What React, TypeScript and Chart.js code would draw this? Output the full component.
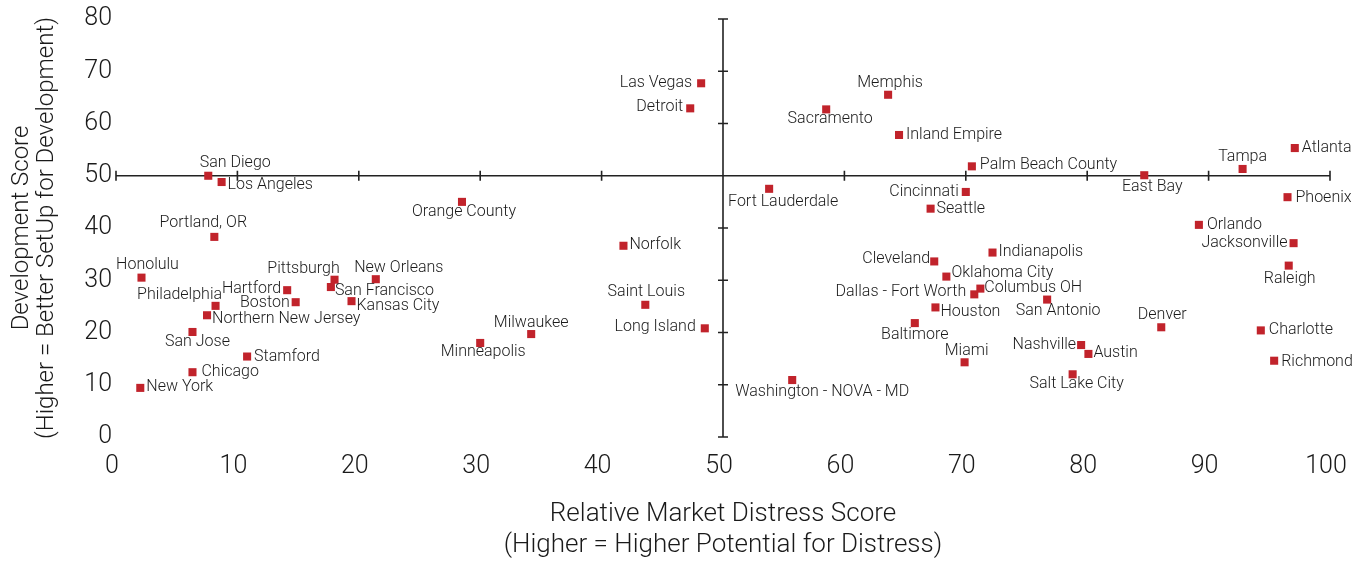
import React, { useEffect, useRef } from 'react';
import { Chart, registerables } from 'chart.js';

Chart.register(...registerables);

const CITIES: string[] = [
  'San Diego', 'Los Angeles', 'Portland, OR', 'Honolulu', 'Philadelphia', 'Northern New Jersey',
  'San Jose', 'Stamford', 'Chicago', 'New York', 'Hartford', 'Boston', 'Pittsburgh', 'San Francisco',
  'Kansas City', 'New Orleans', 'Las Vegas', 'Detroit', 'Sacramento', 'Orange County', 'Fort Lauderdale',
  'Norfolk', 'Saint Louis', 'Long Island', 'Milwaukee', 'Minneapolis', 'Washington - NOVA - MD',
  'Memphis', 'Inland Empire', 'Atlanta', 'Palm Beach County', 'East Bay', 'Tampa', 'Cincinnati',
  'Seattle', 'Phoenix', 'Orlando', 'Jacksonville', 'Raleigh', 'Indianapolis', 'Cleveland',
  'Oklahoma City', 'Columbus OH', 'Dallas - Fort Worth', 'San Antonio', 'Houston', 'Baltimore',
  'Denver', 'Charlotte', 'Nashville', 'Austin', 'Miami', 'Richmond', 'Salt Lake City',
];

const DISTRESS: number[] = [
  7.6, 8.7, 8.1, 2.1, 8.2, 7.5,
  6.3, 10.8, 6.3, 2.0, 14.1, 14.8, 18.0, 17.7,
  19.4, 21.4, 48.2, 47.3, 58.5, 28.5, 53.8,
  41.8, 43.6, 48.5, 34.2, 30.0, 55.7,
  63.6, 64.5, 97.1, 70.5, 84.7, 92.8, 70.0,
  67.1, 96.5, 89.2, 97.0, 96.6, 72.2, 67.4,
  68.4, 71.2, 70.7, 76.7, 67.5, 65.8,
  86.1, 94.3, 79.5, 80.1, 69.9, 95.4, 78.8,
];

const DEVELOPMENT: number[] = [
  50.0, 48.8, 38.3, 30.5, 25.1, 23.3,
  20.1, 15.4, 12.4, 9.4, 28.1, 25.8, 30.1, 28.7,
  26.0, 30.2, 67.7, 62.9, 62.7, 45.0, 47.5,
  36.6, 25.3, 20.8, 19.7, 18.0, 10.9,
  65.5, 57.8, 55.3, 51.8, 50.1, 51.3, 46.9,
  43.7, 45.9, 40.6, 37.1, 32.8, 35.3, 33.6,
  30.7, 28.4, 27.3, 26.3, 24.8, 21.8,
  21.0, 20.4, 17.6, 15.9, 14.3, 14.6, 12.0,
];

const X_TICKS: number[] = [0, 10, 20, 30, 40, 50, 60, 70, 80, 90, 100];
const Y_TICKS: number[] = [0, 10, 20, 30, 40, 50, 60, 70, 80];
const X_CROSS = 50;
const Y_CROSS = 50;

const X_TITLE: string[] = ['Relative Market Distress Score', '(Higher = Higher Potential for Distress)'];
const Y_TITLE: string[] = ['Development Score', '(Higher = Better SetUp for Development)'];

// label placement style: [textAlign, dx px, dy px] relative to marker
const LABEL_STYLE: [CanvasTextAlign, number, number][] = [
  ['center', 27, -13], ['left', 6, 3], ['center', -11, -14], ['center', 6, -13], ['center', -36, -11], ['left', 5, 4],
  ['center', 5, 10], ['left', 7, 0], ['left', 9, 0], ['left', 6, -1], ['right', -6, -1], ['right', -6, 1], ['center', -31, -11], ['left', 4, 4],
  ['left', 5, 5], ['center', 23, -11], ['right', -9, 0], ['right', -7, -1], ['center', 4, 10], ['center', 2, 10], ['center', 14, 13],
  ['left', 6, -1], ['center', 1, -13], ['right', -9, -1], ['center', 0, -11], ['center', 3, 9], ['center', 30, 12],
  ['center', 2, -12], ['left', 7, 0], ['left', 7, 0], ['left', 8, -1], ['center', 8, 12], ['center', 0, -12], ['right', -7, 0],
  ['left', 6, 0], ['left', 8, 1], ['left', 8, 0], ['right', -6, 0], ['center', 1, 13], ['left', 6, -1], ['right', -4, -2],
  ['left', 5, -4], ['left', 4, -1], ['right', -8, -2], ['center', 11, 11], ['left', 5, 5], ['center', 0, 12],
  ['center', 1, -12], ['left', 8, 0], ['right', -5, 0], ['left', 5, -1], ['center', 2, -11], ['left', 7, 1], ['center', 4, 10],
];

const RED = '#C1232B';
const TEXT = '#1a1a1a';
const FAMILY = 'Roboto, "Liberation Sans", Arial, sans-serif';

const crossPlugin = {
  id: 'crossAxes',
  beforeDatasetsDraw(chart: any) {
    const { ctx, scales } = chart;
    const xs = scales.x;
    const ys = scales.y;
    const cx = xs.getPixelForValue(X_CROSS);
    const cy = ys.getPixelForValue(Y_CROSS);
    const x0 = xs.getPixelForValue(X_TICKS[0]);
    const x1 = xs.getPixelForValue(X_TICKS[X_TICKS.length - 1]);
    const y0 = ys.getPixelForValue(Y_TICKS[0]);
    const y1 = ys.getPixelForValue(Y_TICKS[Y_TICKS.length - 1]);
    const t = 5;
    ctx.save();
    ctx.strokeStyle = '#222';
    ctx.lineWidth = 1.6;
    ctx.beginPath();
    ctx.moveTo(x0, cy);
    ctx.lineTo(x1, cy);
    ctx.moveTo(cx, y0);
    ctx.lineTo(cx, y1);
    X_TICKS.forEach((v) => {
      const p = xs.getPixelForValue(v);
      ctx.moveTo(p, cy - t);
      ctx.lineTo(p, cy + t);
    });
    Y_TICKS.forEach((v) => {
      const p = ys.getPixelForValue(v);
      ctx.moveTo(cx - t, p);
      ctx.lineTo(cx + t, p);
    });
    ctx.stroke();
    ctx.restore();
  },
};

const labelPlugin = {
  id: 'pointLabels',
  afterDatasetsDraw(chart: any) {
    const { ctx } = chart;
    const meta = chart.getDatasetMeta(0);
    ctx.save();
    ctx.font = `300 16px ${FAMILY}`;
    ctx.fillStyle = TEXT;
    ctx.textBaseline = 'middle';
    meta.data.forEach((el: any, i: number) => {
      const [align, dx, dy] = LABEL_STYLE[i];
      ctx.textAlign = align;
      ctx.fillText(CITIES[i], el.x + dx, el.y + dy);
    });
    ctx.restore();
  },
};

export default function App() {
  const ref = useRef<HTMLCanvasElement>(null);
  useEffect(() => {
    const canvas = ref.current;
    if (!canvas) return;
    const tickFont = { family: FAMILY, size: 25, weight: 300 as any };
    const chart = new Chart(canvas, {
      type: 'scatter',
      data: {
        datasets: [
          {
            data: DISTRESS.map((x, i) => ({ x, y: DEVELOPMENT[i] })),
            pointStyle: 'rect',
            pointRadius: 5.7,
            pointHoverRadius: 5.7,
            backgroundColor: RED,
            borderColor: RED,
            borderWidth: 0,
          },
        ],
      },
      options: {
        animation: false,
        responsive: true,
        maintainAspectRatio: false,
        layout: { padding: { left: 0, right: 36, top: 17, bottom: 0 } },
        plugins: {
          legend: { display: false },
          tooltip: { enabled: false },
        },
        scales: {
          x: {
            type: 'linear',
            min: X_TICKS[0],
            max: X_TICKS[X_TICKS.length - 1],
            afterBuildTicks: (s: any) => {
              s.ticks = X_TICKS.map((v) => ({ value: v }));
            },
            afterFit: (s: any) => {
              s.height = 124;
            },
            grid: { display: false, drawTicks: false },
            border: { display: false },
            ticks: { font: tickFont, color: TEXT, padding: 15, labelOffset: -4 },
            title: {
              display: true,
              text: X_TITLE,
              color: TEXT,
              font: { family: FAMILY, size: 26, weight: 300 as any, lineHeight: 1.19 },
              padding: { top: 0, bottom: 0.5 },
            },
          },
          y: {
            type: 'linear',
            min: Y_TICKS[0],
            max: Y_TICKS[Y_TICKS.length - 1],
            afterBuildTicks: (s: any) => {
              s.ticks = Y_TICKS.map((v) => ({ value: v }));
            },
            afterFit: (s: any) => {
              s.width = 116;
            },
            grid: { display: false, drawTicks: false },
            border: { display: false },
            ticks: { font: tickFont, color: TEXT, padding: 4 },
            title: {
              display: true,
              text: Y_TITLE,
              color: TEXT,
              font: { family: FAMILY, size: 24, weight: 300 as any, lineHeight: 1.05 },
              padding: { top: 9.5, bottom: 0 },
            },
          },
        },
      },
      plugins: [crossPlugin, labelPlugin],
    } as any);
    return () => chart.destroy();
  }, []);
  return (
    <div style={{ position: 'fixed', left: 0, top: 0, width: 1366, height: 561, background: '#fff' }}>
      <canvas ref={ref} />
    </div>
  );
}
